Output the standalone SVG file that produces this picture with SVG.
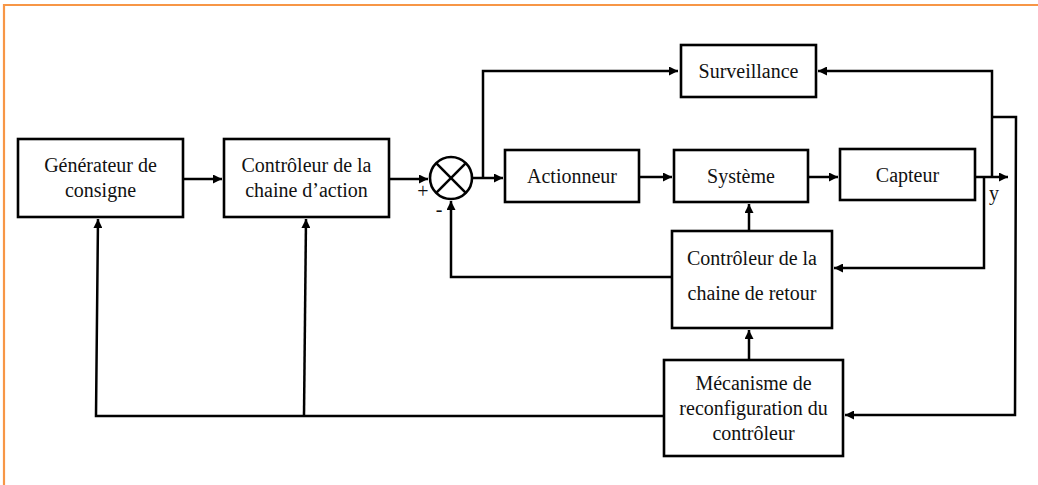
<svg xmlns="http://www.w3.org/2000/svg" width="1038" height="485" viewBox="0 0 1038 485">
  <style>
    .box { fill: #fff; stroke: #000; stroke-width: 2.6; }
    .wire { fill: none; stroke: #000; stroke-width: 2.5; }
    .lbl { font-family: "Liberation Serif", "Times New Roman", serif; font-size: 20px; fill: #111; text-anchor: middle; }
    .frame { fill: none; stroke: #F79646; stroke-width: 2.2; }
  </style>
  <defs>
    <marker id="arrow" viewBox="0 0 10 10" refX="10" refY="5" markerWidth="3.6" markerHeight="3.6" orient="auto" markerUnits="strokeWidth">
      <path d="M0,0 L10,5 L0,10 z" fill="#000"/>
    </marker>
  </defs>

  <rect width="1038" height="485" fill="#fff"/>
  <!-- outer frame -->
  <path class="frame" d="M4,485 V5 H1038"/>

  <!-- connectors -->
  <g id="connectors">
    <line class="wire" x1="183" y1="179" x2="222" y2="179" marker-end="url(#arrow)"/>
    <line class="wire" x1="389" y1="179" x2="428" y2="179" marker-end="url(#arrow)"/>
    <line class="wire" x1="472" y1="178" x2="503" y2="178" marker-end="url(#arrow)"/>
    <polyline class="wire" points="483,178 483,71 678,71" marker-end="url(#arrow)"/>
    <line class="wire" x1="639" y1="177" x2="672" y2="177" marker-end="url(#arrow)"/>
    <line class="wire" x1="808" y1="177" x2="838" y2="177" marker-end="url(#arrow)"/>
    <line class="wire" x1="975" y1="177" x2="1008" y2="177" marker-end="url(#arrow)"/>
    <polyline class="wire" points="992,177 992,71 818,71" marker-end="url(#arrow)"/>
    <polyline class="wire" points="984,177 984,268 834,268" marker-end="url(#arrow)"/>
    <polyline class="wire" points="992,117 1016,117 1015,415 845,415" marker-end="url(#arrow)"/>
    <line class="wire" x1="749" y1="231" x2="749" y2="204" marker-end="url(#arrow)"/>
    <line class="wire" x1="749" y1="360" x2="749" y2="330" marker-end="url(#arrow)"/>
    <polyline class="wire" points="672,277 451,277 451,201" marker-end="url(#arrow)"/>
    <polyline class="wire" points="664,416 96,416 98,219" marker-end="url(#arrow)"/>
    <polyline class="wire" points="304,416 306,219" marker-end="url(#arrow)"/>
  </g>

  <!-- summing junction -->
  <g id="sum">
    <circle cx="451" cy="178" r="21" fill="#fff" stroke="#000" stroke-width="2.6"/>
    <line class="wire" x1="436.2" y1="163.2" x2="465.8" y2="192.8"/>
    <line class="wire" x1="465.8" y1="163.2" x2="436.2" y2="192.8"/>
    <text class="lbl" x="423" y="198">+</text>
    <text class="lbl" x="439" y="216">-</text>
  </g>

  <g id="generateur">
    <rect class="box" x="18" y="139" width="165" height="78"/>
    <text class="lbl" x="100.5" y="172">Générateur de</text>
    <text class="lbl" x="100.5" y="197">consigne</text>
  </g>

  <g id="controleur-action">
    <rect class="box" x="224" y="139" width="165" height="78"/>
    <text class="lbl" x="306.5" y="172">Contrôleur de la</text>
    <text class="lbl" x="306.5" y="197">chaine d’action</text>
  </g>

  <g id="surveillance">
    <rect class="box" x="681" y="45" width="135" height="52"/>
    <text class="lbl" x="748.5" y="78">Surveillance</text>
  </g>

  <g id="actionneur">
    <rect class="box" x="505" y="150" width="134" height="52"/>
    <text class="lbl" x="572" y="183">Actionneur</text>
  </g>

  <g id="systeme">
    <rect class="box" x="674" y="150" width="134" height="52"/>
    <text class="lbl" x="741" y="183">Système</text>
  </g>

  <g id="capteur">
    <rect class="box" x="840" y="149" width="135" height="51"/>
    <text class="lbl" x="907.5" y="182">Capteur</text>
  </g>

  <g id="sortie">
    <text class="lbl" x="994" y="200">y</text>
  </g>

  <g id="controleur-retour">
    <rect class="box" x="672" y="231" width="160" height="97"/>
    <text class="lbl" x="752" y="265">Contrôleur de la</text>
    <text class="lbl" x="752" y="300">chaine de retour</text>
  </g>

  <g id="reconfiguration">
    <rect class="box" x="664" y="360" width="179" height="96"/>
    <text class="lbl" x="753.5" y="390">Mécanisme de</text>
    <text class="lbl" x="753.5" y="415">reconfiguration du</text>
    <text class="lbl" x="753.5" y="440">contrôleur</text>
  </g>
</svg>
